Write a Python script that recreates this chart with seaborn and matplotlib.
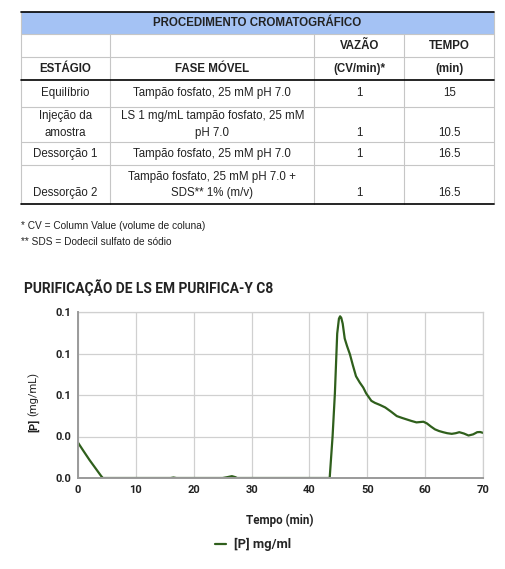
import numpy as np
import pandas as pd
import seaborn as sns
import matplotlib.pyplot as plt

# chromatography procedure table
header = ['ESTÁGIO', 'FASE MÓVEL', '(CV/min)*', '(min)']
stages = ['Equilíbrio', 'Injeção da\namostra', 'Dessorção 1', 'Dessorção 2']
phases = ['Tampão fosfato, 25 mM pH 7.0',
          'LS 1 mg/mL tampão fosfato, 25 mM\npH 7.0',
          'Tampão fosfato, 25 mM pH 7.0',
          'Tampão fosfato, 25 mM pH 7.0 +\nSDS** 1% (m/v)']
flows = ['1', '1', '1', '1']
times = ['15', '10.5', '16.5', '16.5']
notes = ['* CV = Column Value (volume de coluna)',
         '** SDS = Dodecil sulfato de sódio']

# chromatogram
tempo = [0, 1, 2, 3, 4, 4.3, 10, 16, 16.5, 17, 25, 25.8, 26.6, 27.2, 27.5,
         43.5, 44.0, 44.4, 44.8, 45.1, 45.3, 45.5, 45.75, 46.1, 46.5, 47.0,
         47.5, 48.05, 48.7, 49.3, 49.8, 50.2, 50.7, 51.3, 52.2, 53.1, 54.1,
         55.1, 56.0, 56.8, 57.6, 58.5, 59.1, 59.7, 60.3, 61.0, 61.7, 62.4,
         63.1, 63.8, 64.6, 65.3, 65.9, 66.7, 67.5, 68.3, 69.0, 69.5, 70]
conc = [0.0213, 0.016, 0.0108, 0.006, 0.0012, 0.0, 0.0, 0.0, 0.0003, 0.0,
        0.0, 0.0005, 0.0011, 0.0005, 0.0,
        0.0, 0.025, 0.051, 0.087, 0.096, 0.0974, 0.0965, 0.093, 0.084, 0.0795,
        0.0745, 0.068, 0.0613, 0.0575, 0.0545, 0.051, 0.049, 0.0465, 0.0453,
        0.044, 0.0425, 0.040, 0.0373, 0.0362, 0.0353, 0.0344, 0.0335, 0.0337,
        0.0339, 0.0329, 0.031, 0.0293, 0.0283, 0.0276, 0.027, 0.0266, 0.027,
        0.0276, 0.0268, 0.0256, 0.0263, 0.0276, 0.0277, 0.0272]
yticks = [0, 0.025, 0.05, 0.075, 0.1]

sns.set_style('white')
plt.rcParams['font.family'] = ['Roboto', 'DejaVu Sans']

W, H = 505, 569
fig = plt.figure(figsize=(W / 100, H / 100), dpi=100)

# ---- table drawn in pixel coordinates ----
tab = fig.add_axes([0, 0, 1, 1])
tab.set_xlim(0, W)
tab.set_ylim(H, 0)
tab.axis('off')

xs = [20.7, 110.3, 314.3, 404.3, 494.3]
cx = [(xs[i] + xs[i + 1]) / 2 for i in range(4)]
tf = dict(family=['Liberation Sans', 'DejaVu Sans'], fontsize=8.3, color='#222222')
grey = '#c6c6c6'

tab.fill_between([xs[0], xs[-1]], 11.7, 34, color='#a4c2f4', lw=0)
for y in [34, 57.3, 106.7, 142.3, 165]:
    tab.plot([xs[0], xs[-1]], [y, y], color=grey, lw=0.8)
tab.plot([xs[0], xs[0]], [11.7, 204.3], color=grey, lw=0.8)
tab.plot([xs[-1], xs[-1]], [11.7, 204.3], color=grey, lw=0.8)
for x in xs[1:-1]:
    tab.plot([x, x], [34, 204.3], color=grey, lw=0.8)
for y in [11.7, 80, 204.3]:
    tab.plot([xs[0], xs[-1]], [y, y], color='black', lw=1.2)

tab.text((xs[0] + xs[-1]) / 2, 22.5, 'PROCEDIMENTO CROMATOGRÁFICO', ha='center', va='center',
         weight='bold', **tf)
tab.text(cx[2], 45.5, 'VAZÃO', ha='center', va='center', weight='bold', **tf)
tab.text(cx[3], 45.5, 'TEMPO', ha='center', va='center', weight='bold', **tf)
for c, h in zip(cx, header):
    tab.text(c, 68.5, h, ha='center', va='center', weight='bold', **tf)

row_mid = [93.3, 124.5, 153.7, 184.7]
for r in range(4):
    two = '\n' in stages[r] or '\n' in phases[r]
    yb = row_mid[r] + (8 if two else 0)
    tab.text(cx[0], row_mid[r] if '\n' in stages[r] else yb, stages[r], ha='center',
             va='center', linespacing=1.45, **tf)
    tab.text(cx[1], row_mid[r], phases[r], ha='center', va='center', linespacing=1.45, **tf)
    tab.text(cx[2], yb, flows[r], ha='center', va='center', **tf)
    tab.text(cx[3], yb, times[r], ha='center', va='center', **tf)

tab.text(21, 225.5, notes[0], ha='left', va='center', **dict(tf, fontsize=7.3))
tab.text(21, 241.5, notes[1], ha='left', va='center', **dict(tf, fontsize=7.3))

tab.text(24, 288, 'PURIFICAÇÃO DE LS EM PURIFICA-Y C8', ha='left', va='center',
         fontsize=9.9, weight='bold', color='#222222')

# ---- chromatogram ----
ax = fig.add_axes([78 / W, 1 - 478 / H, (483 - 78) / W, (478 - 312) / H])
df = pd.DataFrame({'Tempo': tempo, 'P': conc})
sns.lineplot(data=df, x='Tempo', y='P', ax=ax, color='#2f5f1c', linewidth=1.6,
             label='[P] mg/ml', zorder=2)
ax.set_xlim(0, 70)
ax.set_ylim(0, 0.1)
ax.set_xticks(range(0, 71, 10))
ax.set_yticks(yticks)
ax.set_yticklabels([f'{v:.1f}' for v in yticks])
ax.grid(True, color='#d0d0d0', lw=0.9)
ax.set_axisbelow(True)
for s in ['top', 'right']:
    ax.spines[s].set_color('#d0d0d0')
    ax.spines[s].set_linewidth(0.9)
for s in ['left', 'bottom']:
    ax.spines[s].set_color('#9a9a9a')
    ax.spines[s].set_linewidth(1.4)
    ax.spines[s].set_zorder(3)
ax.tick_params(length=0, labelsize=8, colors='#222222', pad=5)
for lab in ax.get_xticklabels() + ax.get_yticklabels():
    lab.set_fontweight('bold')
ax.set_xlabel('')
ax.set_ylabel('')

fig.text(280 / W, 1 - 520 / H, 'Tempo (min)', ha='center', va='center', fontsize=8.4,
         weight='bold', color='#222222')
fig.text(33.3 / W, 1 - 425.8 / H, '[P]', ha='center', va='center', rotation=90,
         fontsize=8, weight='bold', color='#222222')
fig.text(33.3 / W, 1 - 394 / H, '(mg/mL)', ha='center', va='center', rotation=90,
         fontsize=8, color='#222222')

ax.legend(loc='center', bbox_to_anchor=(253 / W, 1 - 544.5 / H), bbox_transform=fig.transFigure,
          frameon=False, handlelength=0.9, handletextpad=0.6,
          prop=dict(family='Roboto', weight='bold', size=9.4))

fig.savefig('out.png', dpi=100)
